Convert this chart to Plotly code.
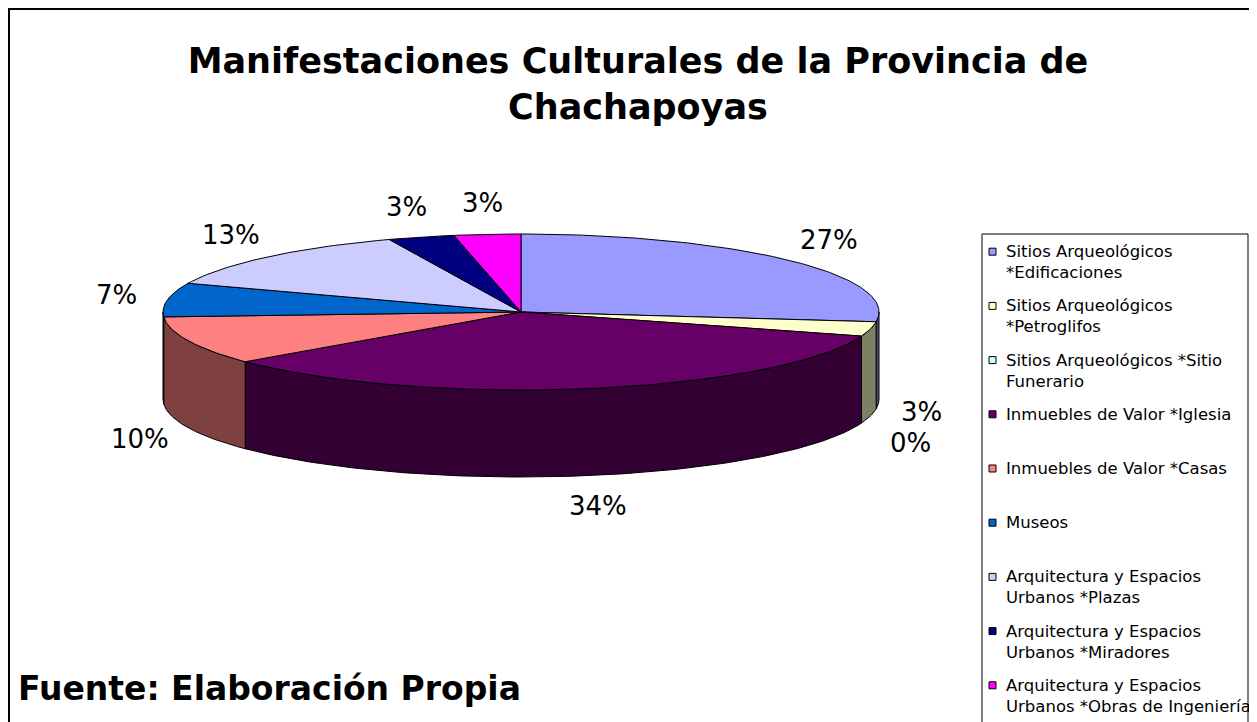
import math
import plotly.graph_objects as go

# ---------------- data ----------------
categories = [
    "Sitios Arqueológicos<br>*Edificaciones",
    "Sitios Arqueológicos<br>*Petroglifos",
    "Sitios Arqueológicos *Sitio<br>Funerario",
    "Inmuebles de Valor *Iglesia",
    "Inmuebles de Valor *Casas",
    "Museos",
    "Arquitectura y Espacios<br>Urbanos *Plazas",
    "Arquitectura y Espacios<br>Urbanos *Miradores",
    "Arquitectura y Espacios<br>Urbanos *Obras de Ingeniería",
]
percentages = [27, 3, 0, 34, 10, 7, 13, 3, 3]
colors = ["#9999FF", "#FFFFCC", "#CCFFFF", "#660066", "#FF8080",
          "#0066CC", "#CCCCFF", "#000080", "#FF00FF"]

title_text = "Manifestaciones Culturales de la Provincia de<br>Chachapoyas"
source_text = "Fuente: Elaboración Propia"

# ---------------- layout constants (window pixels) ----------------
W, H = 1257, 722
OFF = 8                    # page margin around the plot div
CX, CY = 521, 312          # centre of top face
RX, RY = 358, 78           # ellipse radii of top face
DEPTH = 87                 # thickness of the pie
LRX, LRY = 410, 109        # label ellipse
LABEL_GAP = 31             # minimal vertical gap between neighbouring labels
FONT = "DejaVu Sans"
FW, FH = W - OFF, H - OFF


def px(x):
    """window x pixel -> paper fraction"""
    return (x - OFF) / FW


def py(y):
    """window y pixel -> paper fraction"""
    return 1 - (y - OFF) / FH


def darker(hex_color, f=0.5):
    h = hex_color.lstrip("#")
    r, g, b = (int(h[i:i + 2], 16) for i in (0, 2, 4))
    return "#%02X%02X%02X" % (int(r * f), int(g * f), int(b * f))


def arc(a, b, dy=0.0):
    n = max(2, int(abs(b - a)) + 2)
    xs, ys = [], []
    for k in range(n):
        t = math.radians(a + (b - a) * k / (n - 1))
        xs.append(CX + RX * math.sin(t))
        ys.append(CY - RY * math.cos(t) + dy)
    return xs, ys


total = float(sum(percentages))
starts, ends = [], []
acc = 0.0
for v in percentages:
    starts.append(acc / total * 360.0)
    acc += v
    ends.append(acc / total * 360.0)

fig = go.Figure()

# side walls (front half only: 90..270 degrees)
for v, a, b, c in zip(percentages, starts, ends, colors):
    if v <= 0:
        continue
    a2, b2 = max(a, 90.0), min(b, 270.0)
    if b2 <= a2:
        continue
    tx, ty = arc(a2, b2)
    bx, by = arc(b2, a2, DEPTH)
    fig.add_trace(go.Scatter(
        x=tx + bx + [tx[0]], y=ty + by + [ty[0]],
        mode="lines", fill="toself", fillcolor=darker(c),
        line=dict(color="black", width=1),
        hoverinfo="skip", showlegend=False))

# top faces
for v, a, b, c, name in zip(percentages, starts, ends, colors, categories):
    if v <= 0:
        continue
    ax, ay = arc(a, b)
    fig.add_trace(go.Scatter(
        x=[CX] + ax + [CX], y=[CY] + ay + [CY],
        mode="lines", fill="toself", fillcolor=c,
        line=dict(color="black", width=1),
        name=name.replace("<br>", " "),
        hovertemplate="%{fullData.name}<extra>" + f"{v}%" + "</extra>",
        showlegend=False))

annotations = []
# percentage labels (placed around the ellipse, spread apart if they collide)
label_pos = []
for v, a, b in zip(percentages, starts, ends):
    m = math.radians((a + b) / 2.0)
    lx = CX + LRX * math.sin(m)
    ly = CY - LRY * math.cos(m) + (DEPTH if math.cos(m) < 0 else 0)
    if label_pos:
        ppx, ppy = label_pos[-1]
        if abs(lx - ppx) < 60 and abs(ly - ppy) < LABEL_GAP:
            mid = (ly + ppy) / 2.0
            sgn = 1 if ly >= ppy else -1
            label_pos[-1] = (ppx, mid - sgn * LABEL_GAP / 2.0)
            ly = mid + sgn * LABEL_GAP / 2.0
    label_pos.append((lx, ly))
for v, (lx, ly) in zip(percentages, label_pos):
    annotations.append(dict(
        x=lx, y=ly, xref="x", yref="y", text=f"{v}%", showarrow=False,
        xanchor="center", yanchor="middle",
        font=dict(family=FONT, size=26, color="black")))

shapes = []
# outer chart border (paper coordinates, so it is not clipped)
shapes.append(dict(type="rect", xref="paper", yref="paper",
                   x0=px(9), y0=py(9), x1=px(1254), y1=py(H + 5),
                   line=dict(color="black", width=2), fillcolor="rgba(0,0,0,0)"))
# legend box
shapes.append(dict(type="rect", xref="paper", yref="paper",
                   x0=px(982), y0=py(234), x1=px(1248), y1=py(H + 5),
                   line=dict(color="black", width=1), fillcolor="white", layer="below"))

# legend entries
for i, (name, c) in enumerate(zip(categories, colors)):
    yc = 251.7 + 54.2 * i
    shapes.append(dict(type="rect", xref="x", yref="y", x0=989, x1=996,
                       y0=yc - 3.5, y1=yc + 3.5, fillcolor=c,
                       line=dict(color="black", width=1)))
    annotations.append(dict(
        x=1004, y=yc - 11.5, xref="x", yref="y", text=name, showarrow=False,
        xanchor="left", yanchor="top", align="left",
        font=dict(family=FONT, size=16.5, color="black")))

# source note
annotations.append(dict(
    x=16, y=688, xref="x", yref="y", text=source_text, showarrow=False,
    xanchor="left", yanchor="middle",
    font=dict(family=FONT, size=33, color="black", weight="bold")))

fig.update_layout(
    width=FW, height=FH,
    margin=dict(l=0, r=0, t=0, b=0),
    paper_bgcolor="white", plot_bgcolor="white",
    title=dict(text=title_text, x=px(638), xanchor="center",
               y=1 - 65 / FH, yanchor="top",
               font=dict(family=FONT, size=35, color="black", weight="bold")),
    xaxis=dict(range=[OFF, W], visible=False, fixedrange=True),
    yaxis=dict(range=[H, OFF], visible=False, fixedrange=True),
    showlegend=False,
    shapes=shapes,
    annotations=annotations,
)

fig.write_html("out.html")
